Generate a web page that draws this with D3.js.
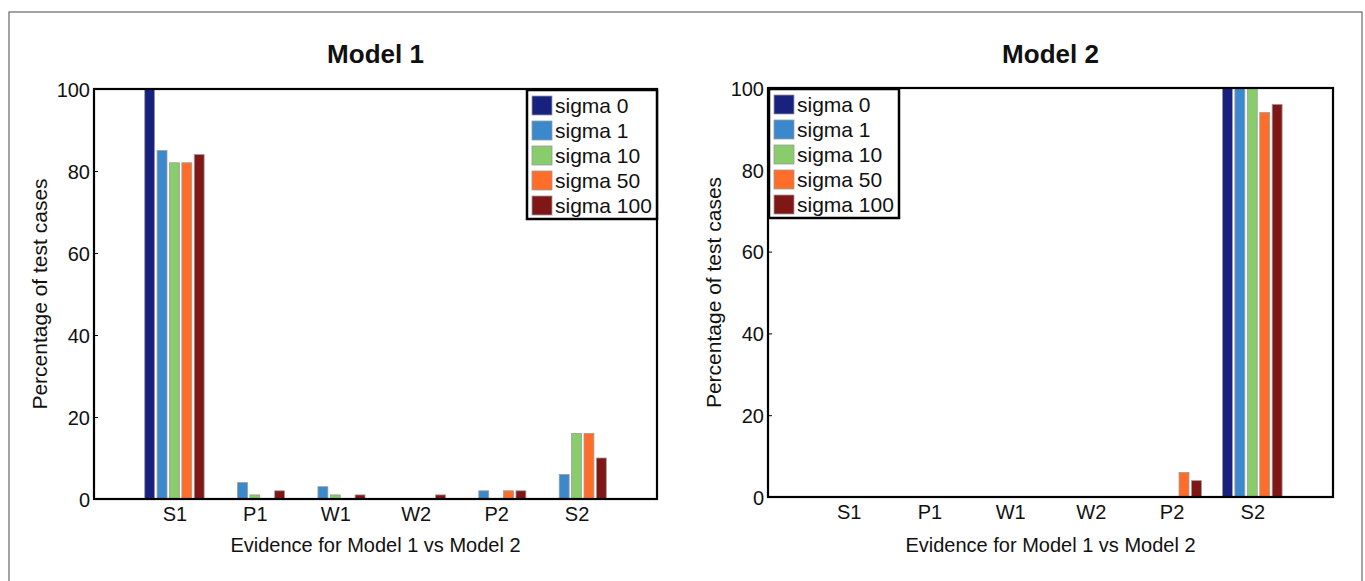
<!DOCTYPE html>
<html>
<head>
<meta charset="utf-8">
<script src="https://cdn.jsdelivr.net/npm/d3@7"></script>
<style>
  body { margin: 0; background: #fff; }
  text { font-family: "Liberation Sans", Arial, Helvetica, sans-serif; fill: #111; }
</style>
</head>
<body>
<svg id="viz"></svg>
<script>
let width = 1365;
let height = 581;

let categories = ["S1", "P1", "W1", "W2", "P2", "S2"];
let seriesNames = ["sigma 0", "sigma 1", "sigma 10", "sigma 50", "sigma 100"];
let seriesColors = ["#19217f", "#3b88cc", "#89cc6b", "#ff6d2b", "#7e1716"];
let yTicks = [0, 20, 40, 60, 80, 100];

// percentage of test cases, one array per sigma, in category order
let model1Sigma0 = [100, 0, 0, 0, 0, 0];
let model1Sigma1 = [85, 4, 3, 0, 2, 6];
let model1Sigma10 = [82, 1, 1, 0, 0, 16];
let model1Sigma50 = [82, 0, 0, 0, 2, 16];
let model1Sigma100 = [84, 2, 1, 1, 2, 10];

let model2Sigma0 = [0, 0, 0, 0, 0, 100];
let model2Sigma1 = [0, 0, 0, 0, 0, 100];
let model2Sigma10 = [0, 0, 0, 0, 0, 100];
let model2Sigma50 = [0, 0, 0, 0, 6, 94];
let model2Sigma100 = [0, 0, 0, 0, 4, 96];

let panels = [
    { title: "Model 1", x0: 94, x1: 657, y0: 89, y1: 499, legendX: 527,
      values: [model1Sigma0, model1Sigma1, model1Sigma10, model1Sigma50, model1Sigma100] },
    { title: "Model 2", x0: 768, x1: 1333, y0: 88, y1: 497, legendX: 769,
      values: [model2Sigma0, model2Sigma1, model2Sigma10, model2Sigma50, model2Sigma100] }
];

let svg = d3.select("#viz")
    .attr("width", width)
    .attr("height", height);

// outer frame
svg.append("rect")
    .attr("x", 9).attr("y", 12)
    .attr("width", 1353).attr("height", 600)
    .attr("fill", "none")
    .attr("stroke", "#666")
    .attr("stroke-width", 1.2);

let groupStep = 0.154;  // distance between bars inside a group (axis units)
let barW = 0.123;

panels.forEach(function(p) {
    let g = svg.append("g");

    let x = d3.scaleLinear().domain([0, 7]).range([p.x0, p.x1]);
    let y = d3.scaleLinear().domain([0, 100]).range([p.y1, p.y0]);

    // bars
    p.values.forEach(function(vals, si) {
        g.selectAll("rect.s" + si)
            .data(vals)
            .enter().append("rect")
            .attr("class", "s" + si)
            .attr("x", (d, i) => x(i + 1 + (si - 2) * groupStep - barW / 2))
            .attr("width", x(barW) - x(0))
            .attr("y", (d) => y(d))
            .attr("height", (d) => y(0) - y(d))
            .attr("fill", seriesColors[si])
            .attr("stroke", (d) => d > 0 ? "#9b9b9b" : "none")
            .attr("stroke-width", 0.8);
    });

    // y axis ticks + labels
    let yAxis = d3.axisLeft(y).tickValues(yTicks).tickSize(-4).tickPadding(4);
    let ya = g.append("g")
        .attr("transform", "translate(" + p.x0 + ",0)")
        .call(yAxis);
    ya.select(".domain").remove();
    ya.selectAll("line").attr("stroke", "#000").attr("stroke-width", 1);
    ya.selectAll("text")
        .style("font-size", "20px")
        .attr("dy", "0.36em");

    // x axis labels
    let xa = g.append("g")
        .attr("transform", "translate(0," + p.y1 + ")")
        .call(d3.axisBottom(x).tickValues(d3.range(1, 7)).tickSize(0).tickPadding(8)
            .tickFormat((d) => categories[d - 1]));
    xa.select(".domain").remove();
    xa.selectAll("text").style("font-size", "20px");

    // box
    g.append("rect")
        .attr("x", p.x0).attr("y", p.y0)
        .attr("width", p.x1 - p.x0).attr("height", p.y1 - p.y0)
        .attr("fill", "none")
        .attr("stroke", "#000")
        .attr("stroke-width", 2.2);

    // title
    g.append("text")
        .attr("x", (p.x0 + p.x1) / 2)
        .attr("y", 63)
        .attr("text-anchor", "middle")
        .style("font-size", "26px")
        .style("font-weight", "bold")
        .text(p.title);

    // axis titles
    g.append("text")
        .attr("x", (p.x0 + p.x1) / 2)
        .attr("y", 552)
        .attr("text-anchor", "middle")
        .style("font-size", "20px")
        .text("Evidence for Model 1 vs Model 2");

    g.append("text")
        .attr("transform", "translate(" + (p.x0 - 47) + "," + ((p.y0 + p.y1) / 2) + ") rotate(-90)")
        .attr("text-anchor", "middle")
        .style("font-size", "21px")
        .text("Percentage of test cases");

    // legend
    let lg = g.append("g").attr("transform", "translate(" + p.legendX + "," + (p.y0 + 1) + ")");
    lg.append("rect")
        .attr("width", 130).attr("height", 129)
        .attr("fill", "#fff")
        .attr("stroke", "#000")
        .attr("stroke-width", 2.5);
    let rows = lg.selectAll("g.row")
        .data(seriesNames)
        .enter().append("g")
        .attr("class", "row")
        .attr("transform", (d, i) => "translate(5," + (6 + i * 25) + ")");
    rows.append("rect")
        .attr("width", 20).attr("height", 19)
        .attr("fill", (d, i) => seriesColors[i])
        .attr("stroke", "#9b9b9b")
        .attr("stroke-width", 0.8);
    rows.append("text")
        .attr("x", 23)
        .attr("y", 16.5)
        .style("font-size", "21px")
        .text((d) => d);
});
</script>
</body>
</html>
